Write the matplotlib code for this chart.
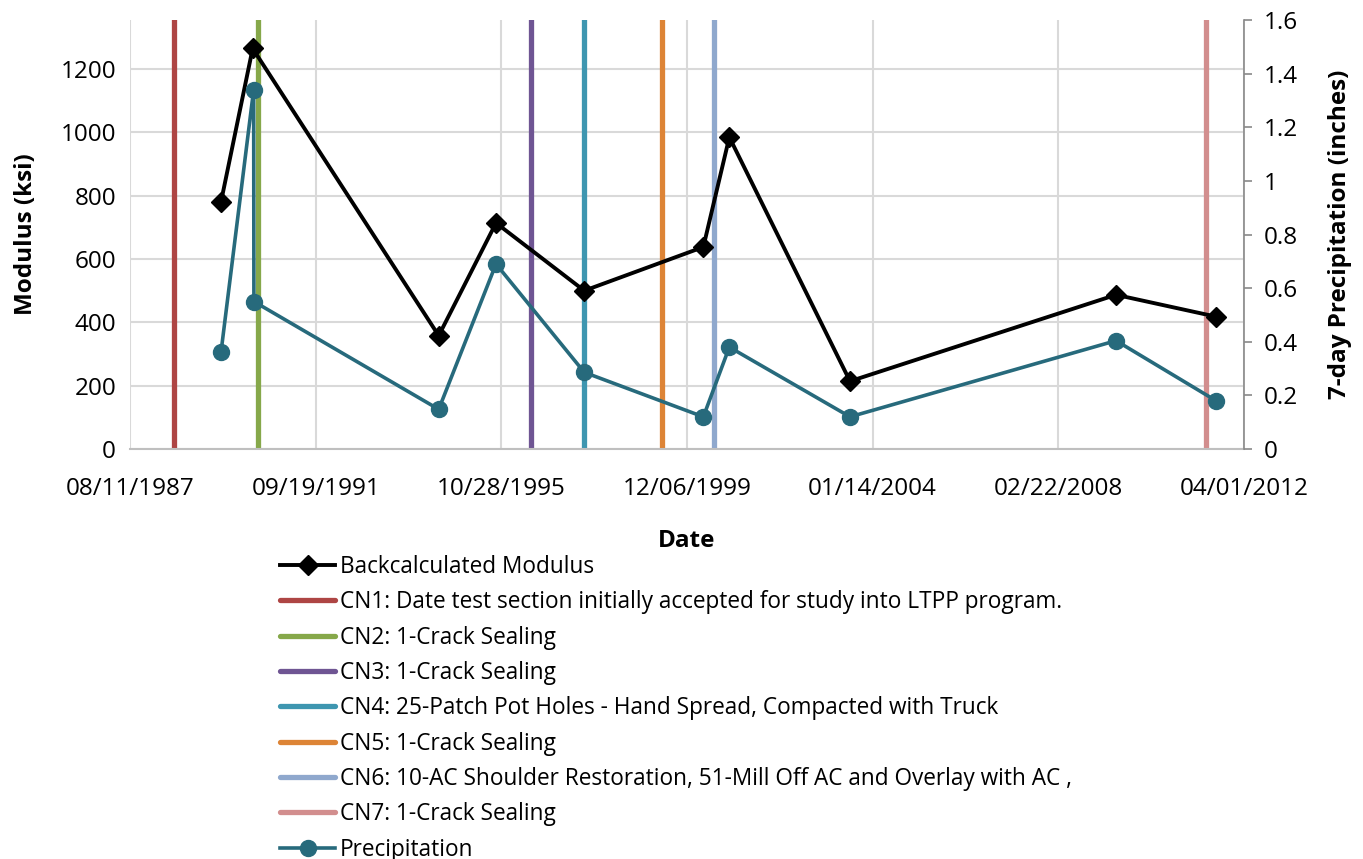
import numpy as np
import pandas as pd
import matplotlib
matplotlib.use("Agg")
import matplotlib.pyplot as plt
import matplotlib.dates as mdates
from matplotlib.lines import Line2D

plt.rcParams['font.family'] = ['Open Sans', 'DejaVu Sans']

# ---data----------------------------------------------------------------
modDates = ["1989-08-15", "1990-04-28", "1994-06-09", "1995-09-15", "1997-08-28",
            "2000-04-16", "2000-11-12", "2003-07-15", "2009-06-02", "2011-08-19"]
modulus = [780, 1265, 358, 714, 500, 638, 985, 214, 487, 418]

precDates = ["1989-08-15", "1990-05-06", "1990-05-08", "1994-06-09", "1995-09-15",
             "1997-08-28", "2000-04-16", "2000-11-12", "2003-07-15", "2009-06-02",
             "2011-08-19"]
precip = [0.36, 1.34, 0.55, 0.148, 0.69, 0.286, 0.12, 0.38, 0.12, 0.404, 0.18]

cnDates = ["1988-08-03", "1990-06-12", "1996-06-26", "1997-08-26",
           "1999-05-18", "2000-07-08", "2011-05-30"]
cnLabels = ["CN1: Date test section initially accepted for study into LTPP program.",
            "CN2: 1-Crack Sealing",
            "CN3: 1-Crack Sealing",
            "CN4: 25-Patch Pot Holes - Hand Spread, Compacted with Truck",
            "CN5: 1-Crack Sealing",
            "CN6: 10-AC Shoulder Restoration, 51-Mill Off AC and Overlay with AC ,",
            "CN7: 1-Crack Sealing"]
cnColors = ["#ae4544", "#86a84a", "#6f5593", "#3e96b0", "#dd8436", "#8fa8cd", "#d28e8e"]

tickStart = "1987-08-11"
tickStep = 1500   # days
nTicks = 7

# ---figure----------------------------------------------------------------
fig = plt.figure(figsize=(13.63, 8.59), dpi=100)
ax = fig.add_axes([130/1363, 1-449/859, (1244-130)/1363, (449-20)/859])
ax2 = ax.twinx()

tickDates = [pd.Timestamp(tickStart) + pd.Timedelta(days=tickStep*i) for i in range(nTicks)]
ax.set_xlim(tickDates[0], tickDates[-1])
ax.set_xticks(tickDates)
ax.xaxis.set_major_formatter(mdates.DateFormatter("%m/%d/%Y"))

gridCol = "#d9d9d9"
ax.grid(True, color=gridCol, lw=1.5, zorder=0)
ax.set_axisbelow(True)

cnHandles = []
for d, lab, c in zip(cnDates, cnLabels, cnColors):
    ax.axvline(pd.Timestamp(d), color=c, lw=3.8, zorder=2)
    cnHandles.append(Line2D([], [], color=c, lw=3.8, solid_capstyle='round', label=lab))

hMod, = ax.plot(pd.to_datetime(modDates), modulus, color="black", lw=2.8,
                marker="D", ms=10, zorder=3, label="Backcalculated Modulus")
hPrec, = ax2.plot(pd.to_datetime(precDates), precip, color="#276a7c", lw=2.6,
                  marker="o", ms=11.5, zorder=3, label="Precipitation")

ax.set_ylim(0, 1355)
ax.set_yticks(range(0, 1201, 200))
ax2.set_ylim(0, 1.6)
ax2.set_yticks(np.arange(0, 1.61, 0.2))
ax2.set_yticklabels(["0", "0.2", "0.4", "0.6", "0.8", "1", "1.2", "1.4", "1.6"])

for s in ["top", "left", "right"]:
    ax.spines[s].set_visible(False)
for s in ["top", "left", "bottom"]:
    ax2.spines[s].set_visible(False)
ax.spines["bottom"].set_color("#bfbfbf")
ax.spines["bottom"].set_linewidth(1.5)
ax2.spines["right"].set_color("#898989")
ax2.spines["right"].set_linewidth(1.2)

fs = 17.5
ax.tick_params(axis="both", length=0, labelsize=fs, pad=10)
ax.tick_params(axis="x", pad=20)
ax2.tick_params(axis="y", length=6, color="#898989", width=1.2, labelsize=fs, pad=8)

ax.set_ylabel("Modulus (ksi)", fontsize=fs, fontweight="bold", labelpad=16)
ax2.set_ylabel("7-day Precipitation (inches)", fontsize=fs, fontweight="bold", labelpad=22)
ax.set_xlabel("Date", fontsize=fs, fontweight="bold", labelpad=20)

handles = [hMod] + cnHandles + [hPrec]
fig.legend(handles=handles, loc="upper left", bbox_to_anchor=(280/1363, 1-555/859),
           frameon=False, fontsize=16.3, handlelength=2.45, handletextpad=0.2,
           labelspacing=0.5, borderpad=0, borderaxespad=0)

fig.savefig("out.png", dpi=100)
